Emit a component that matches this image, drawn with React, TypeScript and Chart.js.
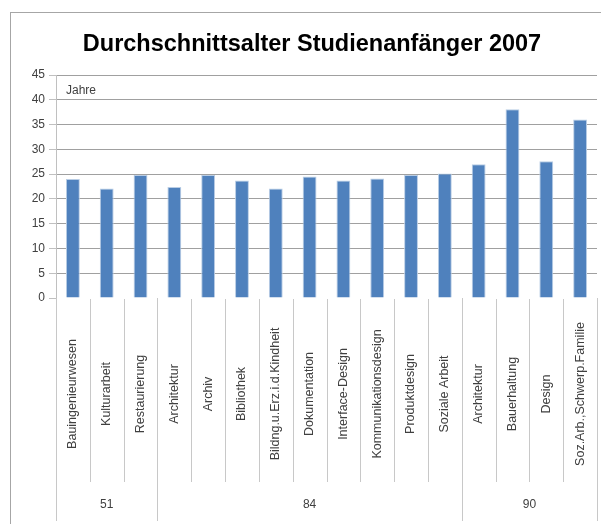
import React, { useEffect, useRef } from "react";
import { Chart, registerables } from "chart.js";

Chart.register(...registerables);

const title = "Durchschnittsalter Studienanfänger 2007";
const unitLabel = "Jahre";
const categories = [
  "Bauingenieurwesen",
  "Kulturarbeit",
  "Restaurierung",
  "Architektur",
  "Archiv",
  "Bibliothek",
  "Bildng.u.Erz.i.d.Kindheit",
  "Dokumentation",
  "Interface-Design",
  "Kommunikationsdesign",
  "Produktdesign",
  "Soziale Arbeit",
  "Architektur",
  "Bauerhaltung",
  "Design",
  "Soz.Arb.,Schwerp.Familie",
];
const groupLabels = ["51", "84", "90"];
const groupSizes = [3, 9, 4];
const values = [24.0, 22.1, 24.8, 22.4, 24.8, 23.7, 22.1, 24.5, 23.7, 24.1, 24.8, 25.1, 27.0, 38.1, 27.6, 36.0];
const yMin = 0;
const yMax = 45;
const yStep = 5;

const FONT = "'Liberation Sans', Arial, sans-serif";

const categoryPlugin = {
  id: "categoryPlugin",
  afterDraw(chart: any) {
    const ctx = chart.ctx as CanvasRenderingContext2D;
    const x = chart.scales.x;
    const area = chart.chartArea;
    const base = area.bottom;
    ctx.save();
    // outer border
    ctx.strokeStyle = "#a6a6a6";
    ctx.lineWidth = 1;
    ctx.strokeRect(10.5, 12.5, 800, 800);

    // title
    ctx.fillStyle = "#000000";
    ctx.font = `bold 23.5px ${FONT}`;
    ctx.textAlign = "center";
    ctx.textBaseline = "alphabetic";
    ctx.fillText(title, 312, 51);

    const n = categories.length;
    const pos = (i: number) => x.getPixelForValue(i);
    const half = (pos(1) - pos(0)) / 2;
    const groupEnds = new Set<number>();
    let acc = 0;
    groupSizes.forEach((s) => {
      acc += s;
      groupEnds.add(acc);
    });
    ctx.strokeStyle = "#c8c8c8";
    for (let i = 0; i <= n; i++) {
      const bx = Math.round(i === 0 ? pos(0) - half : pos(i - 1) + half) + 0.5;
      const isGroup = i === 0 || groupEnds.has(i);
      ctx.beginPath();
      ctx.moveTo(bx, base + (isGroup ? 0 : 1));
      ctx.lineTo(bx, isGroup ? 521 : 482);
      ctx.stroke();
    }
    // category labels
    ctx.fillStyle = "#404040";
    ctx.font = `12.5px ${FONT}`;
    ctx.textAlign = "center";
    ctx.textBaseline = "middle";
    categories.forEach((c, i) => {
      ctx.save();
      ctx.translate(pos(i), 394);
      ctx.rotate(-Math.PI / 2);
      ctx.fillText(c, 0, 0);
      ctx.restore();
    });
    // group labels
    ctx.font = `12px ${FONT}`;
    let start = 0;
    groupSizes.forEach((s, g) => {
      const l = pos(start) - half;
      const r = pos(start + s - 1) + half;
      ctx.fillText(groupLabels[g], (l + r) / 2, 505);
      start += s;
    });
    // unit label
    ctx.textAlign = "left";
    ctx.fillText(unitLabel, area.left + 10, 91);
    ctx.restore();
  },
};

export default function App() {
  const ref = useRef<HTMLCanvasElement | null>(null);
  useEffect(() => {
    if (!ref.current) return;
    const chart = new Chart(ref.current, {
      type: "bar",
      data: {
        labels: categories,
        datasets: [
          {
            data: values,
            backgroundColor: "#4f81bd",
            borderColor: "#b9cde5",
            borderWidth: 1,
            barPercentage: 0.41,
            categoryPercentage: 1,
          },
        ],
      },
      options: {
        animation: false,
        responsive: false,
        devicePixelRatio: 1,
        layout: { padding: { left: 0, right: 4, top: 75, bottom: 0 } },
        plugins: {
          legend: { display: false },
          tooltip: { enabled: false },
          title: { display: false },
        },
        scales: {
          x: {
            ticks: { display: false },
            grid: { display: false },
            border: { display: false },
            afterFit: (scale: any) => {
              scale.height = 226;
            },
          },
          y: {
            min: yMin,
            max: yMax,
            ticks: {
              stepSize: yStep,
              color: "#404040",
              padding: 4,
              font: { family: FONT, size: 12 },
            },
            grid: {
              color: (c: any) => (c.tick && c.tick.value === 0 ? "rgba(0,0,0,0)" : "#a0a0a0"),
              tickColor: "#c0c0c0",
              tickLength: 7,
            },
            border: { display: true, color: "#c0c0c0" },
            afterFit: (scale: any) => {
              scale.width = 56;
            },
          },
        },
      },
      plugins: [categoryPlugin],
    });
    return () => chart.destroy();
  }, []);
  return (
    <div style={{ position: "fixed", left: 0, top: 0, width: 601, height: 524, background: "#fff" }}>
      <canvas ref={ref} width={601} height={524} style={{ display: "block" }} />
    </div>
  );
}
